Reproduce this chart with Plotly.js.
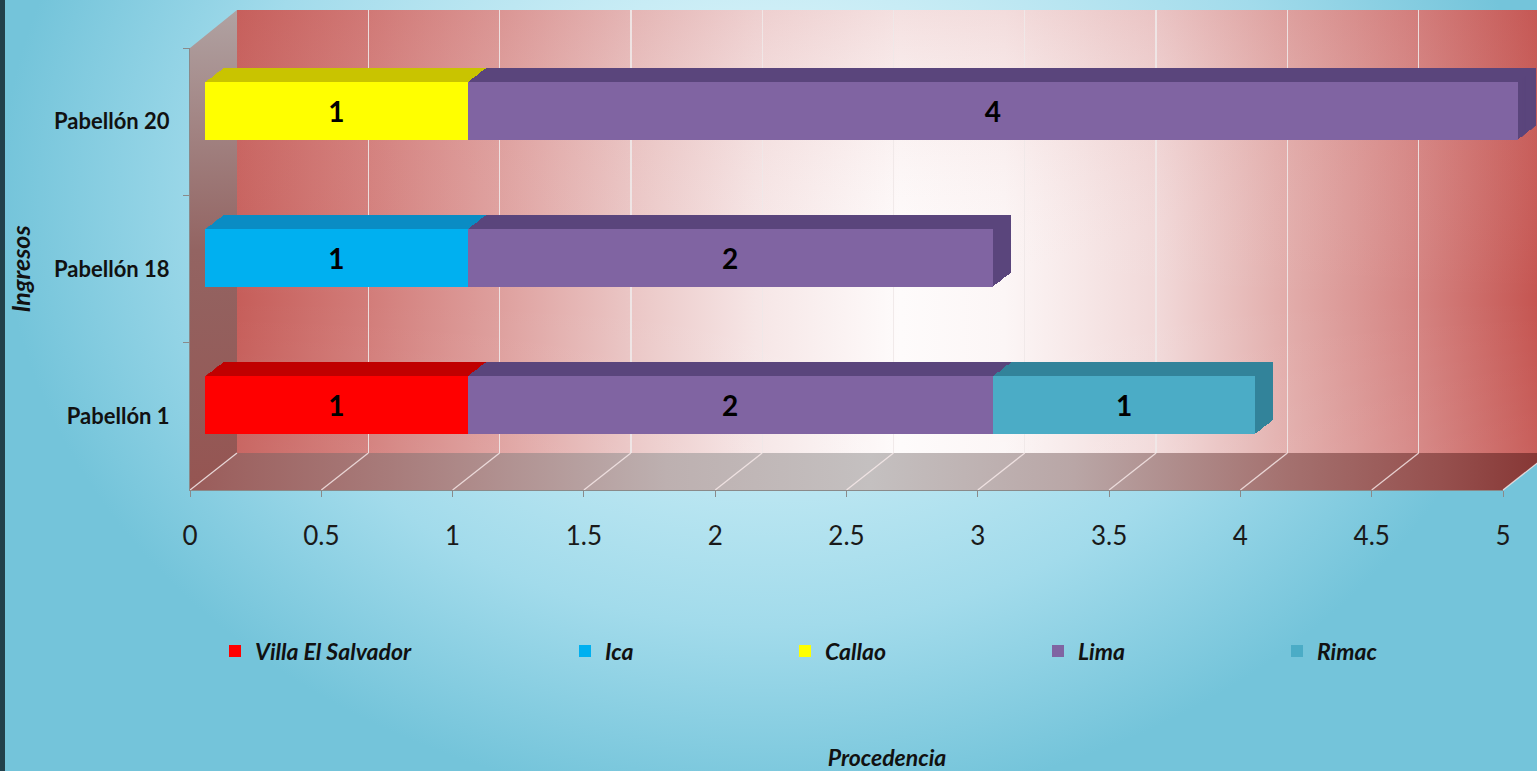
<!DOCTYPE html>
<html>
<head>
<meta charset="utf-8">
<script src="https://cdn.plot.ly/plotly-3.0.1.min.js"></script>
<style>
html,body{margin:0;padding:0;background:#a9dfee;}
#chart{width:1537px;height:771px;}
</style>
</head>
<body>
<div id="chart"></div>
<script>
// ---------------- DATA ----------------
const categories = ['Pabellón 1', 'Pabellón 18', 'Pabellón 20'];
const seriesNames = ['Villa El Salvador', 'Ica', 'Callao', 'Lima', 'Rimac'];
const villaElSalvador = [1, null, null];
const ica = [null, 1, null];
const callao = [null, null, 1];
const lima = [2, 2, 4];
const rimac = [1, null, null];
const xTickValues = [0, 0.5, 1, 1.5, 2, 2.5, 3, 3.5, 4, 4.5, 5];

// ---------------- STYLE ----------------
const W = 1537, H = 771;
const px = x => x / W;
const py = y => 1 - y / H;
const FONT = 'Lato, "Open Sans", "DejaVu Sans", sans-serif';
const frontColors = ['#ff0000', '#00b0f0', '#ffff00', '#8064a2', '#4bacc6'];
const depthColors = ['#c00000', '#0a8cc4', '#c9c400', '#5a457c', '#32839a'];
const seriesValues = [villaElSalvador, ica, callao, lima, rimac];

// geometry (pixels)
const FRONT_X0 = 190, FRONT_X1 = 1503, FRONT_YTOP = 48, FRONT_YBOT = 490;
const BACK_X0 = 237, BACK_YTOP = 10, BACK_YBOT = 453;
const UNIT = (FRONT_X1 - FRONT_X0) / 5;
const BAR_X0 = 205, BAR_YTOP = 37.5, BAR_YBOT = 478.5;
const DEPTH_DX = 18, DEPTH_DY = 14, K = 16;

const traces = [];
const layout = {
  width: W, height: H,
  margin: {l: 0, r: 0, t: 0, b: 0, pad: 0},
  paper_bgcolor: 'rgba(0,0,0,0)',
  plot_bgcolor: 'rgba(0,0,0,0)',
  barmode: 'stack',
  bargap: 0.605,
  showlegend: true,
  font: {family: FONT, color: '#111'},
  hovermode: false
};

function poly(xs, ys, ax, fillgradient, fillcolor) {
  const t = {type: 'scatter', mode: 'none', x: xs.concat([xs[0]]), y: ys.concat([ys[0]]),
    fill: 'toself', xaxis: 'x' + ax, yaxis: 'y' + ax, showlegend: false, hoverinfo: 'skip'};
  if (fillgradient) t.fillgradient = fillgradient; else t.fillcolor = fillcolor;
  traces.push(t);
}

// ---- subplot 1: page decoration (pixels) ----
layout.xaxis = {domain: [0, 1], range: [0, W], visible: false, fixedrange: true};
layout.yaxis = {domain: [0, 1], range: [H, 0], visible: false, fixedrange: true};
poly([0, W, W, 0], [-420, -420, H + 40, H + 40], '', {type: 'radial',
  colorscale: [[0, '#eefbfd'], [0.35, '#c8ecf5'], [0.7, '#a2dbeb'], [1, '#74c4da']]});
poly([0, 5, 5, 0], [0, 0, H, H], '', null, '#22414b');
// side wall
poly([FRONT_X0, BACK_X0, BACK_X0, FRONT_X0], [FRONT_YTOP, BACK_YTOP, BACK_YBOT, FRONT_YBOT], '', {type: 'vertical',
  colorscale: [[0, '#955552'], [0.5, '#936462'], [1, '#b0a2a2']]});
// floor
const backRight = FRONT_X1 + (BACK_X0 - FRONT_X0);
poly([FRONT_X0, BACK_X0, backRight, FRONT_X1], [FRONT_YBOT, BACK_YBOT, BACK_YBOT, FRONT_YBOT], '', {type: 'horizontal',
  colorscale: [[0, '#9a5c5a'], [0.15, '#a87c7b'], [0.35, '#bdb0b0'], [0.5, '#c4c0c0'], [0.65, '#b9a6a6'], [0.8, '#a57371'], [0.92, '#96504e'], [1, '#853432']]});
// floor grid diagonals
(function () {
  const xs = [], ys = [];
  xTickValues.forEach(v => {
    xs.push(FRONT_X0 + v * UNIT, BACK_X0 + v * UNIT, null);
    ys.push(FRONT_YBOT, BACK_YBOT, null);
  });
  traces.push({type: 'scatter', mode: 'lines', x: xs, y: ys, xaxis: 'x', yaxis: 'y',
    line: {color: 'rgba(250,236,236,0.8)', width: 1.3}, showlegend: false, hoverinfo: 'skip'});
})();

// ---- subplot 2: back wall fill ----
layout.xaxis2 = {domain: [px(BACK_X0), 1], range: [BACK_X0, W], anchor: 'y2', visible: false, fixedrange: true};
layout.yaxis2 = {domain: [py(BACK_YBOT), py(BACK_YTOP)], range: [BACK_YBOT, BACK_YTOP], anchor: 'x2', visible: false, fixedrange: true};
poly([BACK_X0, W, W, BACK_X0], [BACK_YTOP, BACK_YTOP, BACK_YBOT, BACK_YBOT], '2', {type: 'horizontal',
  colorscale: [[0, '#c65e5a'], [0.1, '#d27c79'], [0.2, '#de9f9d'], [0.3, '#eac5c4'], [0.4, '#f6e6e6'],
    [0.51, '#fefbfb'], [0.59, '#fcf6f6'], [0.71, '#f1d8d8'], [0.8, '#e3b0ae'], [0.91, '#d48280'], [1, '#c55551']]});
poly([BACK_X0, W, W, BACK_X0], [BACK_YTOP, BACK_YTOP, BACK_YBOT, BACK_YBOT], '2', {type: 'vertical',
  colorscale: [[0, 'rgba(255,255,255,0.06)'], [0.35, 'rgba(255,255,255,0)'], [1, 'rgba(200,100,100,0.18)']]});

// ---- subplot 3: back wall gridlines ----
layout.xaxis3 = {domain: [px(BACK_X0), 1], range: [0, (W - BACK_X0) / UNIT], anchor: 'y3',
  showgrid: true, dtick: 0.5, tick0: 0, gridcolor: 'rgba(240,232,232,0.9)', gridwidth: 1.2,
  zeroline: false, showticklabels: false, ticks: '', showline: false, fixedrange: true,
  title: {text: 'Procedencia', font: {family: FONT, size: 23, weight: 'bold', style: 'italic', color: '#111'}, standoff: 304}};
layout.yaxis3 = {domain: [py(BACK_YBOT), py(BACK_YTOP)], range: [0, 1], anchor: 'x3', visible: false, fixedrange: true};
traces.push({type: 'scatter', x: [0], y: [-5], xaxis: 'x3', yaxis: 'y3', mode: 'markers',
  marker: {opacity: 0}, showlegend: false, hoverinfo: 'skip'});

// ---- subplot 4: front axes (tick labels) ----
layout.xaxis4 = {domain: [px(FRONT_X0), px(FRONT_X1)], range: [0, 5], anchor: 'y4',
  tickvals: xTickValues, ticktext: xTickValues.map(String), ticks: 'outside', ticklen: 6, tickcolor: '#8a8a8a',
  showline: true, linecolor: '#8a8a8a', linewidth: 1, showgrid: false, zeroline: false,
  tickfont: {family: FONT, size: 26, color: '#1a1a1a'}, ticklabelstandoff: 17, fixedrange: true};
layout.yaxis4 = {domain: [py(FRONT_YBOT), py(FRONT_YTOP)], type: 'category', categoryarray: categories,
  range: [-0.5, 2.5], anchor: 'x4', ticks: 'outside', tickson: 'boundaries', ticklen: 6, tickcolor: '#8a8a8a',
  showline: true, linecolor: '#8a8a8a', showgrid: false, zeroline: false,
  tickfont: {family: FONT, size: 22, weight: 'bold', color: '#111'}, ticklabelstandoff: 15,
  title: {text: 'Ingresos', font: {family: FONT, size: 25, weight: 'bold', style: 'italic', color: '#111'}, standoff: 16},
  fixedrange: true};
traces.push({type: 'scatter', x: [0, 0, 0], y: categories, xaxis: 'x4', yaxis: 'y4', mode: 'markers',
  marker: {opacity: 0}, showlegend: false, hoverinfo: 'skip'});

// ---- depth layers of bars (3D top / side faces) ----
let axisNum = 5;
for (let k = K; k >= 1; k--) {
  const f = k / K;
  const ox = DEPTH_DX * f, oy = -DEPTH_DY * f;
  const xa = 'xaxis' + axisNum, ya = 'yaxis' + axisNum;
  layout[xa] = {domain: [px(BAR_X0 + ox), px(BAR_X0 + ox + 5 * UNIT)], range: [0, 5], anchor: 'y' + axisNum, visible: false, fixedrange: true};
  layout[ya] = {domain: [py(BAR_YBOT + oy), py(BAR_YTOP + oy)], type: 'category', categoryarray: categories,
    range: [-0.5, 2.5], anchor: 'x' + axisNum, visible: false, fixedrange: true};
  seriesNames.forEach((name, i) => {
    traces.push({type: 'bar', orientation: 'h', name: name, x: seriesValues[i], y: categories,
      xaxis: 'x' + axisNum, yaxis: 'y' + axisNum, marker: {color: depthColors[i], line: {width: 0}},
      showlegend: false, hoverinfo: 'skip'});
  });
  axisNum++;
}

// ---- front faces of bars ----
const FA = axisNum;
layout['xaxis' + FA] = {domain: [px(BAR_X0), px(BAR_X0 + 5 * UNIT)], range: [0, 5], anchor: 'y' + FA, visible: false, fixedrange: true};
layout['yaxis' + FA] = {domain: [py(BAR_YBOT), py(BAR_YTOP)], type: 'category', categoryarray: categories,
  range: [-0.5, 2.5], anchor: 'x' + FA, visible: false, fixedrange: true};
const legendTextStarts = [255, 605, 825, 1078, 1317];
seriesNames.forEach((name, i) => {
  const lg = i === 0 ? 'legend' : 'legend' + (i + 1);
  traces.push({type: 'bar', orientation: 'h', name: name, x: seriesValues[i], y: categories,
    xaxis: 'x' + FA, yaxis: 'y' + FA, marker: {color: frontColors[i], line: {width: 0}},
    texttemplate: '%{x}', textposition: 'inside', insidetextanchor: 'middle', constraintext: 'none',
    textfont: {family: FONT, size: 28, weight: 'bold', color: '#000'},
    legend: lg, showlegend: true, hoverinfo: 'skip'});
  layout[lg] = {x: px(legendTextStarts[i] - 40), xanchor: 'left', y: py(651), yanchor: 'middle',
    bgcolor: 'rgba(0,0,0,0)', borderwidth: 0,
    font: {family: FONT, size: 23, weight: 'bold', style: 'italic', color: '#111'}};
});

Plotly.newPlot('chart', traces, layout, {staticPlot: true, displayModeBar: false});
</script>
</body>
</html>
